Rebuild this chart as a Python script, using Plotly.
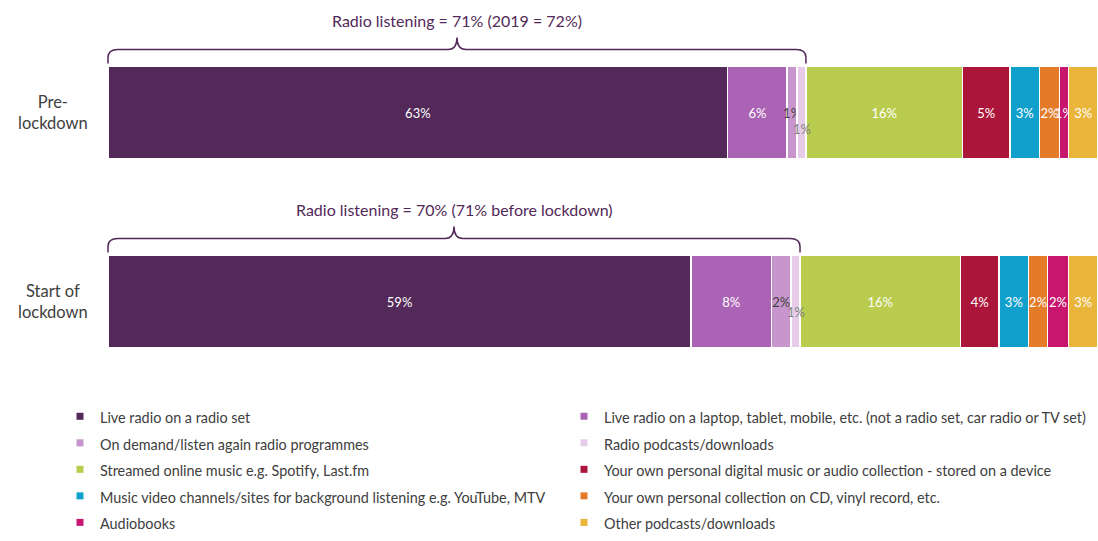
import plotly.graph_objects as go

# rows of the chart (top to bottom)
categories = ["Pre-<br>lockdown", "Start of<br>lockdown"]

# share of listening time (%)
series = [
    ("Live radio on a radio set", [62.6, 58.9]),
    ("Live radio on a laptop, tablet, mobile, etc. (not a radio set, car radio or TV set)", [6.0, 8.1]),
    ("On demand/listen again radio programmes", [1.0, 2.0]),
    ("Radio podcasts/downloads", [0.9, 0.9]),
    ("Streamed online music e.g. Spotify, Last.fm", [15.8, 16.2]),
    ("Your own personal digital music or audio collection - stored on a device", [4.8, 3.9]),
    ("Music video channels/sites for background listening e.g. YouTube, MTV", [3.0, 3.0]),
    ("Your own personal collection on CD, vinyl record, etc.", [2.0, 1.9]),
    ("Audiobooks", [0.9, 2.1]),
    ("Other podcasts/downloads", [3.0, 3.0]),
]
radio_notes = ["Radio listening = 71% (2019 = 72%)", "Radio listening = 70% (71% before lockdown)"]

colors = ["#522958", "#AB63B5", "#C896CC", "#E6CCE8", "#B9CC4E",
          "#AB1539", "#10A0CB", "#E47B29", "#C8166E", "#E9B53A"]
text_colors = ["white", "white", "#404040", "#7F7F7F", "white",
               "white", "white", "white", "white", "white"]
n_radio = 4  # first four series are radio
FONT = "Lato"
DARK = "#404040"
PURPLE = "#522958"

W, H = 1098, 541
# plot area fills the page; the empty left band and the legend band come from the ranges
X_LEFT_PX = 108
X_SCALE = (W - X_LEFT_PX) / 100.0          # px per percent
ROW0_PX, ROW_STEP = 112.5, 189.0           # centre of first bar, px between bars

fig = go.Figure()

for i, (name, vals) in enumerate(series):
    fig.add_trace(go.Bar(
        y=categories, x=vals, orientation="h", name=name,
        marker=dict(color=colors[i], line=dict(color="white", width=1.5)),
        texttemplate="%{x:.0f}%",
        textposition="none" if i == 3 else "inside",
        insidetextanchor="middle", textangle=0,
        textfont=dict(color=text_colors[i], size=13, family=FONT),
        showlegend=False, hoverinfo="skip",
    ))
    # legend swatch with a small square; two legends make the two columns
    fig.add_trace(go.Scatter(
        x=[None], y=[None], mode="markers", name=f'<span style="font-size:14.4px">{name}</span>',
        marker=dict(color=colors[i], symbol="square", size=7),
        legend="legend" if i % 2 == 0 else "legend2",
    ))

annotations = []
shapes = []
podcast_shift = [-16, -10]
for j, cat in enumerate(categories):
    # label for the tiny radio podcasts segment, nudged below the centre
    before = sum(s[1][j] for s in series[:3])
    annotations.append(dict(
        x=before + series[3][1][j] / 2, y=cat, text=f"{series[3][1][j]:.0f}%",
        showarrow=False, yshift=podcast_shift[j],
        font=dict(color=text_colors[3], size=13, family=FONT),
    ))
    # row label
    annotations.append(dict(
        x=53 / W, xref="paper", y=cat, text=cat, showarrow=False,
        xanchor="center", align="center", font=dict(color=DARK, size=16.5, family=FONT),
    ))
    # curly brace over the radio segments
    end = sum(s[1][j] for s in series[:n_radio])
    m = end / 2
    path = (f"M0,49 L0,55 Q0,63 1,63 L{m - 0.9},63 Q{m},63 {m},75 "
            f"Q{m},63 {m + 0.9},63 L{end - 1},63 Q{end},63 {end},55 L{end},49")
    shapes.append(dict(
        type="path", xref="x", yref="y", ysizemode="pixel", yanchor=j,
        path=path, line=dict(color=PURPLE, width=1.5),
    ))
    annotations.append(dict(
        x=m, y=cat, text=radio_notes[j], showarrow=False, yshift=92,
        font=dict(color=PURPLE, size=16, family=FONT),
    ))

legend_style = dict(
    orientation="v", traceorder="normal", y=0, yanchor="bottom", xanchor="left",
    itemwidth=30, font=dict(size=18.1, color=DARK, family=FONT), bgcolor="rgba(0,0,0,0)",
)

fig.update_layout(
    barmode="stack",
    bargap=1 - 93 / ROW_STEP,
    width=W, height=H,
    margin=dict(l=0, r=0, t=0, b=0),
    paper_bgcolor="white", plot_bgcolor="white",
    font=dict(family=FONT, color=DARK),
    uniformtext=dict(minsize=13, mode="show"),
    xaxis=dict(range=[-X_LEFT_PX / X_SCALE, 100], visible=False, fixedrange=True),
    yaxis=dict(range=[(H - ROW0_PX) / ROW_STEP, -ROW0_PX / ROW_STEP],
               visible=False, fixedrange=True),
    showlegend=True,
    legend=dict(x=60 / W, **legend_style),
    legend2=dict(x=564 / W, **legend_style),
    annotations=annotations,
    shapes=shapes,
)

# the page body keeps its default 8px margin otherwise
fig.write_html("out.html", config={"displayModeBar": False},
               post_script="document.body.style.margin = '0';")
